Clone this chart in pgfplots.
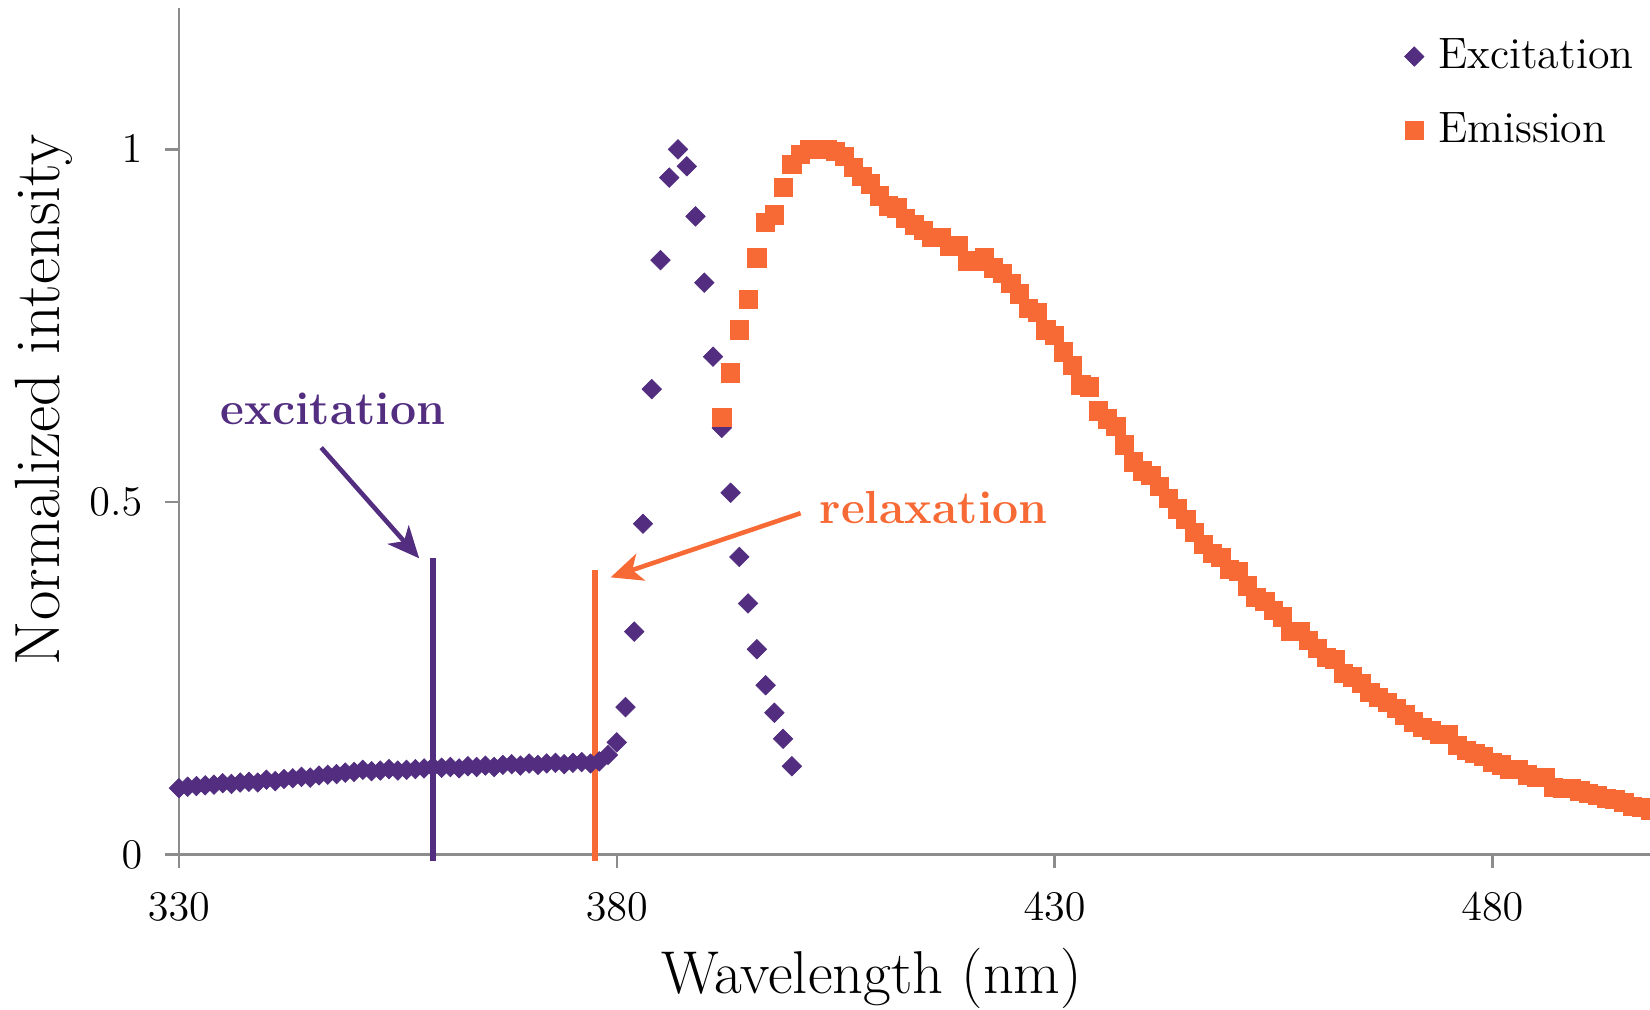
\documentclass[border=0pt]{standalone}
\usepackage{pgfplots}
\pgfplotsset{compat=1.18}
\usetikzlibrary{arrows.meta}
\definecolor{exc}{RGB}{82,45,128}
\definecolor{emi}{RGB}{247,105,53}
\definecolor{axgray}{RGB}{140,140,140}
\begin{document}
\begin{tikzpicture}
\begin{axis}[
 name=ax, scale only axis, width=14.71cm, height=8.46cm,
 xmin=330, xmax=498, ymin=0, ymax=1.2,
 axis x line=bottom, axis y line=left,
 axis line style={-, draw=axgray, line width=0.7pt},
 xtick={330,380,430,480}, ytick={0,0.5,1},
 tick align=outside, major tick length=3.9pt,
 tick style={draw=axgray, line width=0.7pt},
 tick label style={font=\fontsize{13}{15}\selectfont},
 x tick label style={yshift=-3.6pt},
 y tick label style={xshift=-3pt},
 xlabel={Wavelength (nm)}, ylabel={Normalized intensity},
 xlabel style={font=\fontsize{17.2}{20}\selectfont, at={(axis description cs:0.471,-0.147)}, anchor=center},
 ylabel style={font=\fontsize{18.2}{20}\selectfont, at={(axis description cs:-0.0916,0.537)}, anchor=center},
 legend style={at={(1,1)}, anchor=north east, xshift=-0.5pt, yshift=-4.5pt, draw=none, fill=none, font=\fontsize{12.5}{15}\selectfont, row sep=7pt, column sep=2pt, inner sep=2pt},
 legend cell align=left,
 legend image code/.code={\draw[mark repeat=2,mark phase=2,#1] plot coordinates {(0cm,0cm) (0.2cm,0cm) (0.4cm,0cm)};},
 clip=false,
]
\addplot[only marks, mark=square*, mark size=1.95pt, mark options={rotate=45, draw=exc, fill=exc, line width=0.2pt}] coordinates {
(330,0.094)(331,0.096)(332,0.097)(333,0.098)(334,0.099)(335,0.101)(336,0.100)(337,0.102)(338,0.103)(339,0.102)
(340,0.106)(341,0.104)(342,0.107)(343,0.108)(344,0.110)(345,0.109)(346,0.112)(347,0.113)(348,0.114)(349,0.116)
(350,0.117)(351,0.120)(352,0.118)(353,0.119)(354,0.121)(355,0.119)(356,0.120)(357,0.121)(358,0.122)(359,0.124)
(360,0.123)(361,0.124)(362,0.122)(363,0.125)(364,0.124)(365,0.126)(366,0.124)(367,0.127)(368,0.128)(369,0.126)
(370,0.129)(371,0.127)(372,0.129)(373,0.130)(374,0.128)(375,0.130)(376,0.131)(377,0.129)(378,0.132)(379,0.141)
(380,0.159)(381,0.209)(382,0.316)(383,0.469)(384,0.660)(385,0.843)(386,0.960)(387,1.000)(388,0.976)(389,0.905)
(390,0.811)(391,0.706)(392,0.605)(393,0.513)(394,0.422)(395,0.356)(396,0.291)(397,0.240)(398,0.201)(399,0.164)
(400,0.125)
};
\addlegendentry{Excitation}
\addplot[only marks, mark=square*, mark size=2.6pt, mark options={draw=emi, fill=emi, line width=0.2pt}] coordinates {
(392,0.620)(393,0.683)(394,0.744)(395,0.787)(396,0.846)(397,0.897)(398,0.907)(399,0.946)
(400,0.979)(401,0.993)(402,1.000)(403,1.000)(404,1.000)(405,0.997)(406,0.990)(407,0.975)(408,0.962)(409,0.951)
(410,0.934)(411,0.920)(412,0.917)(413,0.902)(414,0.893)(415,0.885)(416,0.875)(417,0.875)(418,0.863)(419,0.863)
(420,0.842)(421,0.842)(422,0.846)(423,0.832)(424,0.824)(425,0.810)(426,0.795)(427,0.775)(428,0.769)(429,0.744)
(430,0.736)(431,0.713)(432,0.694)(433,0.666)(434,0.663)(435,0.629)(436,0.618)(437,0.607)(438,0.581)(439,0.557)
(440,0.544)(441,0.538)(442,0.522)(443,0.505)(444,0.490)(445,0.475)(446,0.457)(447,0.440)(448,0.427)(449,0.421)
(450,0.404)(451,0.401)(452,0.381)(453,0.365)(454,0.359)(455,0.346)(456,0.337)(457,0.316)(458,0.316)(459,0.304)
(460,0.292)(461,0.280)(462,0.277)(463,0.257)(464,0.252)(465,0.243)(466,0.230)(467,0.223)(468,0.216)(469,0.207)
(470,0.198)(471,0.188)(472,0.180)(473,0.176)(474,0.170)(475,0.170)(476,0.155)(477,0.148)(478,0.143)(479,0.139)
(480,0.131)(481,0.127)(482,0.121)(483,0.121)(484,0.113)(485,0.109)(486,0.109)(487,0.095)(488,0.094)(489,0.094)
(490,0.090)(491,0.087)(492,0.084)(493,0.080)(494,0.078)(495,0.074)(496,0.068)(497,0.067)(498,0.063)
};
\addlegendentry{Emission}
\addplot[exc, line width=1.8pt, forget plot] coordinates {(359,0.42) (359,-0.01)};
\addplot[emi, line width=1.6pt, forget plot] coordinates {(377.5,0.404) (377.5,-0.01)};
\draw[exc, line width=1.3pt, -{Stealth[length=9pt,width=8pt,inset=2.5pt]}] (axis cs:346.25,0.577) -- (axis cs:357.44,0.42);
\draw[emi, line width=1.3pt, -{Stealth[length=9pt,width=8pt,inset=2.5pt]}] (axis cs:401.0,0.484) -- (axis cs:379.3,0.393);
\node[text=exc, font=\fontsize{13.2}{16}\selectfont\bfseries] at (axis cs:347.6,0.632) {excitation};
\node[text=emi, font=\fontsize{13.2}{16}\selectfont\bfseries] at (axis cs:416.2,0.492) {relaxation};
\end{axis}
\pgfresetboundingbox
\path[use as bounding box] ([xshift=-1.789cm,yshift=-1.547cm]ax.south west) rectangle ([yshift=0.084cm]ax.north east);
\end{tikzpicture}
\end{document}
